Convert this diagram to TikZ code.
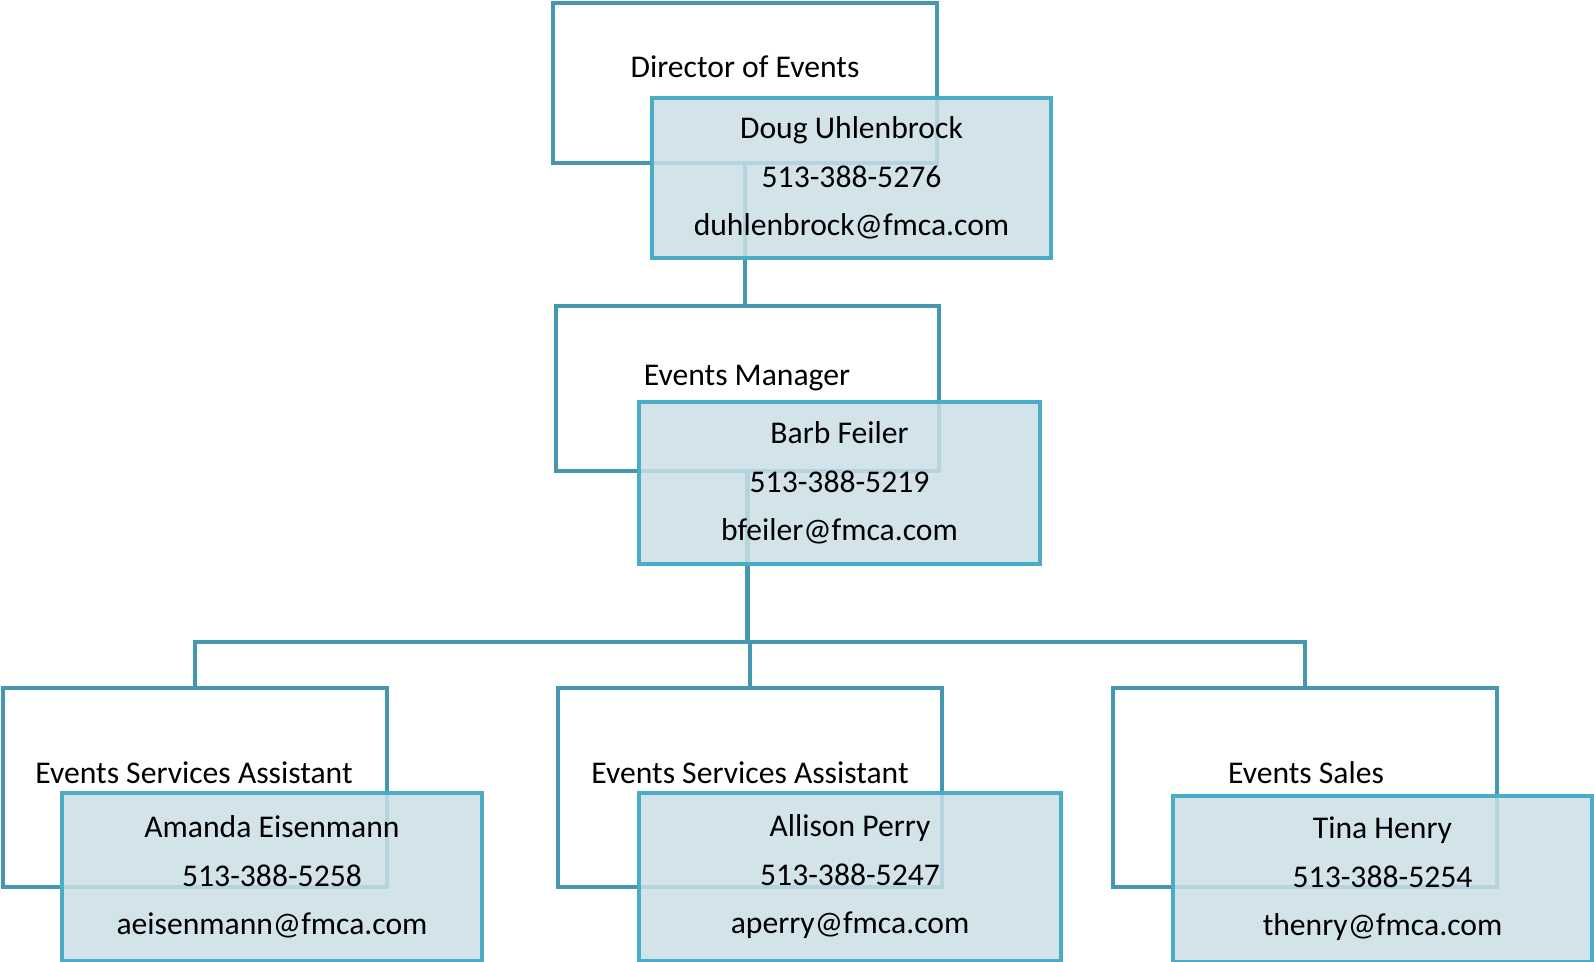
\documentclass[tikz,border=0pt]{standalone}
\usepackage{fontspec}
\setmainfont{Carlito}
\usepackage{tikz}
\definecolor{rolecol}{HTML}{4698B0}
\definecolor{namecol}{HTML}{4BACC6}
\definecolor{namefill}{HTML}{CADFE6}
\tikzstyle{rolebox}=[rectangle,draw=rolecol,line width=2.3pt,minimum width=7.68cm,inner sep=0pt]
\tikzstyle{namebox}=[rectangle,draw=namecol,line width=2.5pt,fill=namefill,fill opacity=0.85,
text opacity=1,align=center,inner sep=0pt,font=\fontsize{18}{27.6}\selectfont]
\tikzstyle{title}=[anchor=base,inner sep=0pt,font=\fontsize{18}{27.6}\selectfont]
\tikzstyle{link}=[draw=rolecol,line width=2.3pt]

\begin{document}
\begin{tikzpicture}[x=0.02cm,y=-0.02cm]
    \useasboundingbox (0,0) rectangle (1594,962);
        \coordinate (bus) at (747.5,642);

        \node (dir) [rolebox,minimum height=3.2cm] at (745,83) {};
        \node (mgr) [rolebox,minimum width=7.66cm,minimum height=3.3cm] at (747.5,388.5) {};
        \node (asst1) [rolebox,minimum height=3.98cm] at (195,787.5) {};
        \node (asst2) [rolebox,minimum height=3.98cm] at (750,787.5) {};
        \node (sales) [rolebox,minimum height=3.98cm] at (1305,787.5) {};

        \draw [link] (dir.south) -- (dir.south |- mgr.north);
        \draw [link] (mgr.south) -- (mgr.south |- bus);
        \draw [link] (asst1.north) -- (asst1.north |- bus) -- (sales.north |- bus) -- (sales.north);
        \draw [link] (asst2.north) -- (asst2.north |- bus);

        \node (dirtitle) [title] at (745,78) {Director of Events};
        \node (mgrtitle) [title] at (747,385) {Events Manager};
        \node (asst1title) [title] at (194,783) {Events Services Assistant};
        \node (asst2title) [title] at (750,783) {Events Services Assistant};
        \node (salestitle) [title] at (1306,783) {Events Sales};

        \node (doug) [namebox,minimum width=7.98cm,minimum height=3.2cm] at (851.5,178)
            {Doug Uhlenbrock\\513-388-5276\\duhlenbrock@fmca.com};
        \node (barb) [namebox,minimum width=8.02cm,minimum height=3.24cm] at (839.5,483)
            {Barb Feiler\\513-388-5219\\bfeiler@fmca.com};
        \node (amanda) [namebox,minimum width=8.4cm,minimum height=3.36cm] at (272,877)
            {Amanda Eisenmann\\513-388-5258\\aeisenmann@fmca.com};
        \node (allison) [namebox,minimum width=8.44cm,minimum height=3.36cm] at (850,877)
            {Allison Perry\\513-388-5247\\aperry@fmca.com};
        \node (tina) [namebox,minimum width=8.38cm,minimum height=3.32cm] at (1382.5,879)
            {Tina Henry\\513-388-5254\\thenry@fmca.com};

    \end{tikzpicture}
\end{document}
